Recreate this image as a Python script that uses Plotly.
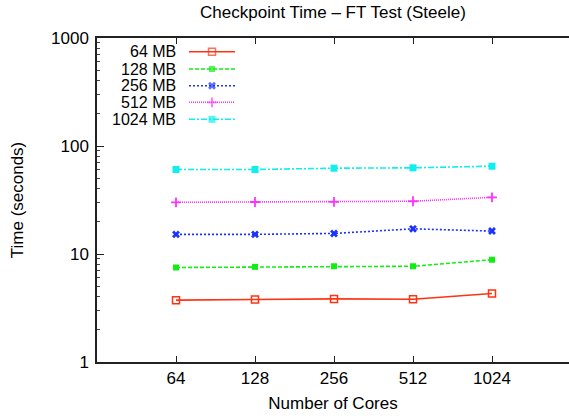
import math
import plotly.graph_objects as go

cores = [64, 128, 256, 512, 1024]
core_labels = ["64", "128", "256", "512", "1024"]
series_names = ["64 MB", "128 MB", "256 MB", "512 MB", "1024 MB"]
t_64mb = [3.74, 3.80, 3.84, 3.81, 4.31]
t_128mb = [7.5, 7.6, 7.7, 7.7, 8.85]
t_256mb = [15.2, 15.2, 15.5, 17.1, 16.3]
t_512mb = [30.1, 30.3, 30.4, 30.8, 33.5]
t_1024mb = [60.6, 60.6, 62.3, 62.8, 65.0]
y_ticks = [1, 10, 100, 1000]

series_values = [t_64mb, t_128mb, t_256mb, t_512mb, t_1024mb]
colors = ["#ff3311", "#11ee11", "#1a33ff", "#ff33ff", "#11eeee"]
dashes = ["solid", "4px,2px", "2px,2px", "1px,1px", "6px,2px,2px,2px"]
symbols = ["square-open", "square", "x", "cross-thin-open", "square"]
msizes = [7, 6, 7, 7, 7]
mlinew = [1.5, 0, 0, 1.8, 0]

W, H = 569, 420
ML, MR, MT, MB = 97, 0, 38, 58
FONT = "Liberation Sans, Arial, Helvetica, sans-serif"

fig = go.Figure()
for name, vals, c, d, s, ms, lw in zip(series_names, series_values, colors, dashes, symbols, msizes, mlinew):
    fig.add_trace(go.Scatter(
        x=cores, y=vals, mode="lines+markers", name=name, showlegend=False,
        line=dict(color=c, width=1.6, dash=d),
        marker=dict(symbol=s, size=ms, color=c, line=dict(color=c, width=lw)),
    ))

# gnuplot-style key (labels right-aligned, sample on the right) in pixel space
key_rows = [51.7, 69.0, 85.7, 102.3, 119.3]
key_text_x = 178
key_line = [189, 212, 235]
for i, (name, c, d, s, ms, lw) in enumerate(zip(series_names, colors, dashes, symbols, msizes, mlinew)):
    fig.add_trace(go.Scatter(
        x=key_line, y=[key_rows[i]] * 3, mode="lines+markers", showlegend=False,
        xaxis="x2", yaxis="y2", hoverinfo="skip",
        line=dict(color=c, width=1.6, dash=d),
        marker=dict(symbol=s, size=[0, ms, 0], color=c, line=dict(color=c, width=lw)),
    ))
    fig.add_annotation(x=key_text_x, y=key_rows[i], xref="x2", yref="y2", text=name,
                       showarrow=False, xanchor="right", yanchor="middle", height=15,
                       font=dict(family=FONT, size=16, color="#000"))

px_per_oct = 79.0
x_left = math.log10(64) - (176 - ML) / px_per_oct * math.log10(2)
x_right = math.log10(1024) + ((W - MR) - 492) / px_per_oct * math.log10(2)

axis_common = dict(showline=True, linecolor="#222", linewidth=1.5, ticks="inside",
                   tickcolor="#222", tickwidth=1.2, showgrid=False, zeroline=False,
                   tickfont=dict(family=FONT, size=17, color="#000"))

fig.update_layout(
    width=W, height=H,
    margin=dict(l=ML, r=MR, t=MT, b=MB, pad=0),
    paper_bgcolor="white", plot_bgcolor="white",
    font=dict(family=FONT, size=17, color="#000"),
    title=dict(text="Checkpoint Time – FT Test (Steele)", x=0.5, xref="paper",
               y=1 - 12 / H, yanchor="middle", font=dict(family=FONT, size=17, color="#000")),
    xaxis=dict(type="log", range=[x_left, x_right], tickvals=cores, ticktext=core_labels,
               ticklen=6, mirror="ticks",
               title=dict(text="Number of Cores", standoff=10, font=dict(family=FONT, size=17)),
               **axis_common),
    yaxis=dict(type="log", range=[0, 3], tickvals=y_ticks, ticktext=[str(v) for v in y_ticks],
               ticklen=7, mirror=False, ticklabelstandoff=3,
               minor=dict(ticks="inside", ticklen=3.5, tickcolor="#444", dtick="D1", showgrid=False),
               title=dict(text="Time (seconds)", standoff=23, font=dict(family=FONT, size=17)),
               **axis_common),
    xaxis2=dict(range=[ML, W - MR], overlaying="x", visible=False, fixedrange=True),
    yaxis2=dict(range=[H - MB, MT], overlaying="y", visible=False, fixedrange=True),
)

fig.write_html("out.html")
